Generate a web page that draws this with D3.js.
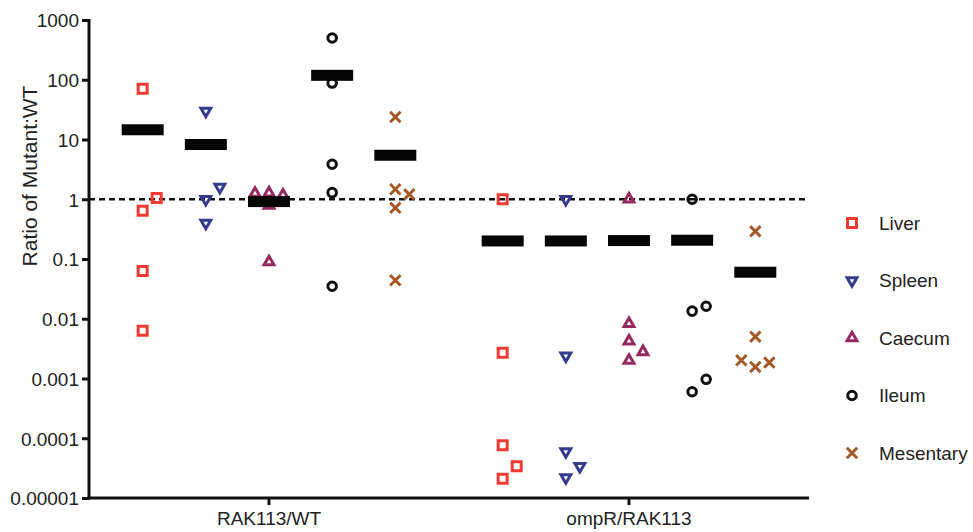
<!DOCTYPE html>
<html>
<head>
<meta charset="utf-8">
<script src="https://cdn.jsdelivr.net/npm/d3@7"></script>
<style>
  body { margin: 0; background: #fff; }
  svg text { font-family: "Liberation Sans", Arial, sans-serif; fill: #222; }
</style>
</head>
<body>
<svg width="973" height="532"></svg>
<script>
// groups on the x axis and tissues inside each group
const groups = ["RAK113/WT", "ompR/RAK113"];
const tissues = ["Liver", "Spleen", "Caecum", "Ileum", "Mesentery"];
const legendLabels = ["Liver", "Spleen", "Caecum", "Ileum", "Mesentary"];
const yTicks = [1000, 100, 10, 1, 0.1, 0.01, 0.001, 0.0001, 0.00001];
const yTickLabels = ["1000", "100", "10", "1", "0.1", "0.01", "0.001", "0.0001", "0.00001"];

// ratio values
const rakLiver     = [0.64, 1.05, 71, 0.063, 0.0063];
const rakSpleen    = [1.0, 1.6, 30, 0.4];
const rakCaecum    = [0.79, 1.17, 1.25, 1.27, 0.089];
const rakIleum     = [500, 88, 3.85, 1.29, 0.035];
const rakMesentery = [1.47, 0.72, 1.21, 23.8, 0.044];

const ompLiver     = [1.0, 0.0027, 0.000076, 0.000021, 0.000034];
const ompSpleen    = [1.0, 0.0024, 0.00006, 0.000022, 0.000034];
const ompCaecum    = [1.0, 0.0083, 0.0042, 0.002, 0.0028];
const ompIleum     = [1.0, 0.0134, 0.0162, 0.0006, 0.00097];
const ompMesentery = [0.29, 0.005, 0.00156, 0.00185, 0.00202];

const values = {
    "RAK113/WT":   [rakLiver, rakSpleen, rakCaecum, rakIleum, rakMesentery],
    "ompR/RAK113": [ompLiver, ompSpleen, ompCaecum, ompIleum, ompMesentery]
};

const colors = ["#f23a30", "#353b8f", "#952a61", "#111111", "#a45a28"];
const symbols = [d3.symbolSquare, d3.symbolTriangle, d3.symbolTriangle, d3.symbolCircle, d3.symbolTimes];
const symSizes = [81, 42, 42, 58, 72];
const rotations = [0, 180, 0, 0, 0];

let svg = d3.select("svg");
const plotLeft = 89, plotRight = 809, plotTop = 20, plotBottom = 498;

let x = d3.scaleBand().domain(groups).range([plotLeft, plotRight]);
let xi = d3.scalePoint().domain(tissues).range([0, x.bandwidth()]).padding(0.85);
let y = d3.scaleLog().domain([0.00001, 1000]).range([plotBottom, plotTop]);

// dashed reference line at 1
svg.append("line")
    .attr("x1", plotLeft).attr("x2", plotRight)
    .attr("y1", y(1)).attr("y2", y(1))
    .attr("stroke", "#111")
    .attr("stroke-width", 2.5)
    .attr("stroke-dasharray", "6,4");

// axes
let yAxis = svg.append("g")
    .attr("transform", `translate(${plotLeft},0)`)
    .call(d3.axisLeft(y).tickValues(yTicks).tickFormat((d, i) => yTickLabels[i]).tickSizeOuter(0).tickSize(7));
let xAxis = svg.append("g")
    .attr("transform", `translate(0,${plotBottom})`)
    .call(d3.axisBottom(x).tickSizeOuter(0).tickSize(7));
[yAxis, xAxis].forEach(g => {
    g.select(".domain").attr("stroke", "#111").attr("stroke-width", 3);
    g.selectAll(".tick line").attr("stroke", "#111").attr("stroke-width", 3);
    g.selectAll(".tick text").style("font-size", "19px").attr("fill", "#222");
});
yAxis.selectAll(".tick text").attr("x", -10).attr("dy", "0.36em");
xAxis.selectAll(".tick text").attr("y", 14);
yAxis.select(".domain").attr("d", `M0,${plotTop - 1}V${plotBottom + 1.5}`);
xAxis.select(".domain").attr("d", `M${plotLeft - 1.5},0H${plotRight}`);

svg.append("text")
    .attr("transform", "translate(37,176) rotate(-90)")
    .attr("text-anchor", "middle")
    .style("font-size", "21px")
    .text("Ratio of Mutant:WT");

// spread overlapping points sideways, like a column scatter
const step = 14, minDist = 13;
function spread(list, cx) {
    let placed = [];
    let offsets = [0, step, -step];
    list.forEach(v => {
        let py = y(v);
        let best = null, bestD = -1;
        for (let o of offsets) {
            let d = d3.min(placed, p => Math.hypot(p.x - (cx + o), p.y - py));
            if (d === undefined) d = Infinity;
            if (d >= minDist) { best = o; bestD = d; break; }
            if (d > bestD) { bestD = d; best = o; }
        }
        placed.push({x: cx + best, y: py, v: v});
    });
    return placed;
}

let plot = svg.append("g");
groups.forEach(g => {
    tissues.forEach((t, i) => {
        let cx = x(g) + xi(t);
        let list = values[g][i];
        let pts = spread(list, cx);
        plot.selectAll(null)
            .data(pts).enter().append("path")
            .attr("transform", d => `translate(${d.x},${d.y}) rotate(${rotations[i]})`)
            .attr("d", d3.symbol().type(symbols[i]).size(symSizes[i]))
            .attr("fill", "none")
            .attr("stroke", colors[i])
            .attr("stroke-width", 3);
        // bar at the mean
        plot.append("rect")
            .attr("x", cx - 21)
            .attr("y", y(d3.mean(list)) - 5.5)
            .attr("width", 42)
            .attr("height", 11)
            .attr("fill", "#050505");
    });
});

// legend
let legend = svg.append("g").attr("transform", "translate(852,223)");
legendLabels.forEach((lab, i) => {
    let row = legend.append("g").attr("transform", `translate(0,${i * 57.5})`);
    row.append("path")
        .attr("transform", `rotate(${rotations[i]})`)
        .attr("d", d3.symbol().type(symbols[i]).size(symSizes[i]))
        .attr("fill", "none")
        .attr("stroke", colors[i])
        .attr("stroke-width", 3);
    row.append("text")
        .attr("x", 27)
        .attr("dy", "0.36em")
        .style("font-size", "19px")
        .text(lab);
});
</script>
</body>
</html>
